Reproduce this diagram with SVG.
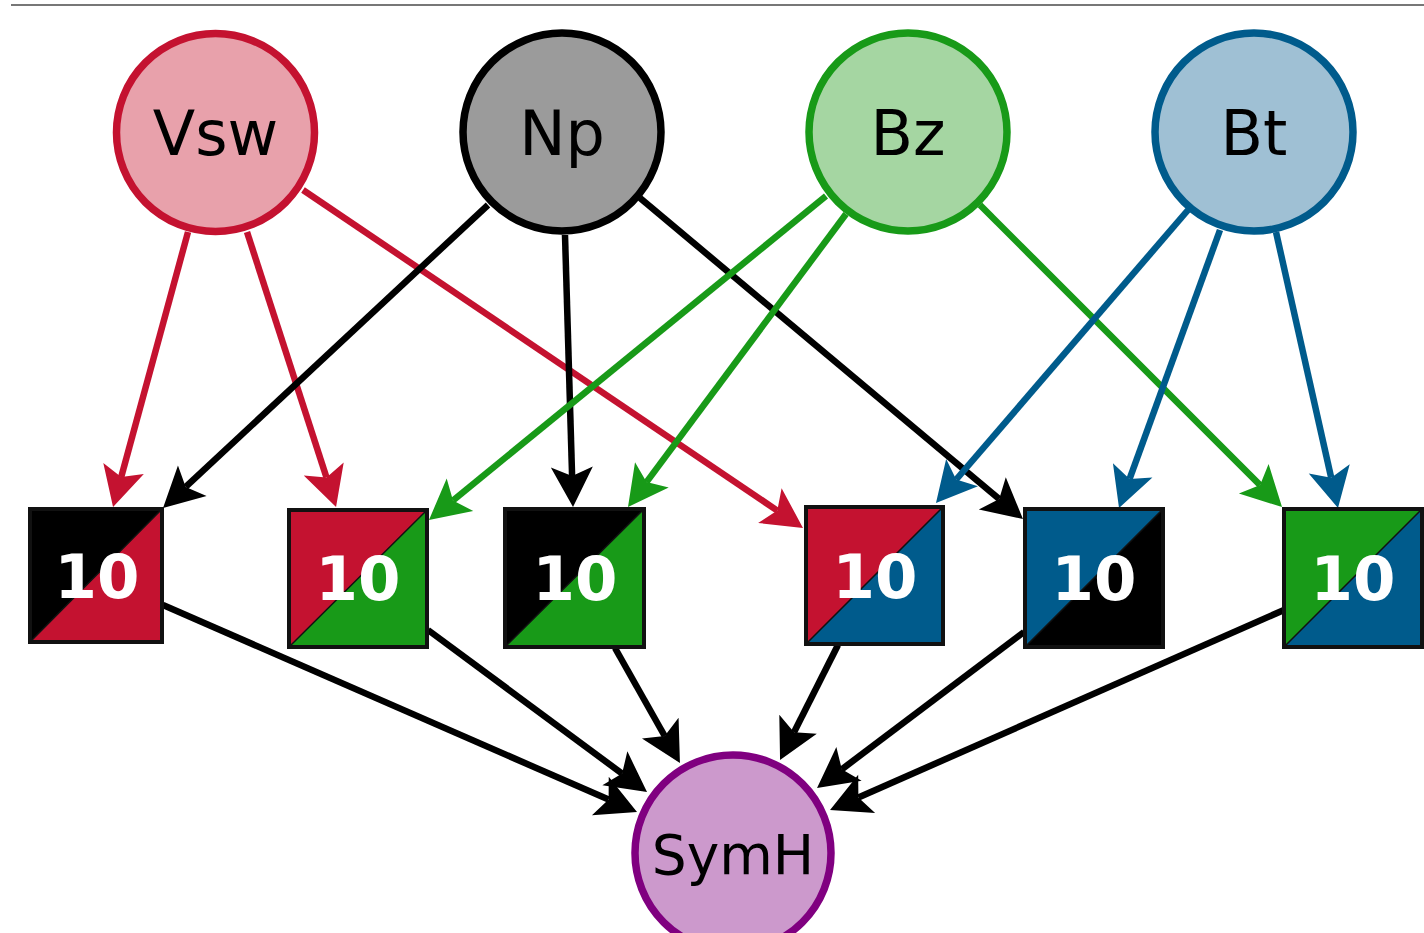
<svg xmlns="http://www.w3.org/2000/svg" width="1424" height="933" viewBox="0 0 1424 933">
<style>
.lbl{font-family:"DejaVu Sans",sans-serif;font-size:62px;fill:#000;text-anchor:middle}
.num{font-family:"DejaVu Sans",sans-serif;font-weight:bold;font-size:61px;fill:#fff;text-anchor:middle}
.sq{fill:none;stroke:#111;stroke-width:4}
.dg{stroke:#111;stroke-width:1.5}
.e{fill:none;stroke-width:6.5}
.c{stroke-width:7.5}
</style>
<defs>
<marker id="aR" markerUnits="userSpaceOnUse" markerWidth="50" markerHeight="50" viewBox="-12 -25 50 50" refX="0" refY="0" orient="auto"><path d="M31,0 L-9,-21 L0,0 L-9,21 Z" fill="#C41230"/></marker>
<marker id="aK" markerUnits="userSpaceOnUse" markerWidth="50" markerHeight="50" viewBox="-12 -25 50 50" refX="0" refY="0" orient="auto"><path d="M31,0 L-9,-21 L0,0 L-9,21 Z" fill="#000"/></marker>
<marker id="aG" markerUnits="userSpaceOnUse" markerWidth="50" markerHeight="50" viewBox="-12 -25 50 50" refX="0" refY="0" orient="auto"><path d="M31,0 L-9,-21 L0,0 L-9,21 Z" fill="#189A18"/></marker>
<marker id="aB" markerUnits="userSpaceOnUse" markerWidth="50" markerHeight="50" viewBox="-12 -25 50 50" refX="0" refY="0" orient="auto"><path d="M31,0 L-9,-21 L0,0 L-9,21 Z" fill="#005B8C"/></marker>
</defs>
<rect width="1424" height="933" fill="#fff"/>
<line x1="11" y1="5" x2="1424" y2="5" stroke="#777" stroke-width="2"/>
<g id="connectors">
<line class="e" stroke="#C41230" marker-end="url(#aR)" x1="188" y1="232" x2="121.2" y2="477.1"/>
<line class="e" stroke="#C41230" marker-end="url(#aR)" x1="247" y1="232" x2="326.5" y2="477.5"/>
<line class="e" stroke="#C41230" marker-end="url(#aR)" x1="303" y1="190" x2="777.3" y2="510.6"/>
<line class="e" stroke="#000" marker-end="url(#aK)" x1="488" y1="205" x2="185.7" y2="486.9"/>
<line class="e" stroke="#000" marker-end="url(#aK)" x1="565" y1="235" x2="572.1" y2="476"/>
<line class="e" stroke="#000" marker-end="url(#aK)" x1="640" y1="198" x2="999.2" y2="499.1"/>
<line class="e" stroke="#189A18" marker-end="url(#aG)" x1="826" y1="196" x2="453" y2="500.4"/>
<line class="e" stroke="#189A18" marker-end="url(#aG)" x1="846" y1="214" x2="646.5" y2="482.1"/>
<line class="e" stroke="#189A18" marker-end="url(#aG)" x1="980" y1="205" x2="1260.1" y2="485.1"/>
<line class="e" stroke="#005B8C" marker-end="url(#aB)" x1="1188" y1="210" x2="956.2" y2="479.5"/>
<line class="e" stroke="#005B8C" marker-end="url(#aB)" x1="1220" y1="230" x2="1129.6" y2="478.9"/>
<line class="e" stroke="#005B8C" marker-end="url(#aB)" x1="1276" y1="232" x2="1331.2" y2="477.7"/>
<line class="e" stroke="#000" marker-end="url(#aK)" x1="163" y1="605" x2="608.6" y2="799.6"/>
<line class="e" stroke="#000" marker-end="url(#aK)" x1="428" y1="630" x2="622.1" y2="773.6"/>
<line class="e" stroke="#000" marker-end="url(#aK)" x1="615" y1="648" x2="664.7" y2="736"/>
<line class="e" stroke="#000" marker-end="url(#aK)" x1="838" y1="645" x2="794" y2="732.3"/>
<line class="e" stroke="#000" marker-end="url(#aK)" x1="1024" y1="632" x2="841.8" y2="769.3"/>
<line class="e" stroke="#000" marker-end="url(#aK)" x1="1284" y1="610" x2="858.4" y2="797.5"/>
</g>
<g id="Vsw"><circle class="c" cx="215.5" cy="132.5" r="99" fill="#E8A1AB" stroke="#C41230"/><text class="lbl" x="215.5" y="155">Vsw</text></g>
<g id="Np"><circle class="c" cx="562" cy="132" r="99" fill="#9B9B9B" stroke="#000"/><text class="lbl" x="562" y="155">Np</text></g>
<g id="Bz"><circle class="c" cx="908" cy="132" r="99" fill="#A5D6A2" stroke="#189A18"/><text class="lbl" x="908" y="155">Bz</text></g>
<g id="Bt"><circle class="c" cx="1254" cy="132" r="99" fill="#9FC0D4" stroke="#005B8C"/><text class="lbl" x="1254" y="155">Bt</text></g>
<g id="SymH"><circle class="c" cx="733" cy="853" r="98" fill="#CC99CC" stroke="#800080"/><text class="lbl" x="733" y="874" style="font-size:55px">SymH</text></g>
<g id="sq1"><rect x="30" y="509" width="132" height="133" fill="#000"/><polygon class="dg" points="30,642 162,509 162,642" fill="#C41230"/><rect class="sq" x="30" y="509" width="132" height="133"/><text class="num" x="97" y="598">10</text></g>
<g id="sq2"><rect x="289" y="510" width="138" height="137" fill="#C41230"/><polygon class="dg" points="289,647 427,510 427,647" fill="#189A18"/><rect class="sq" x="289" y="510" width="138" height="137"/><text class="num" x="358" y="600">10</text></g>
<g id="sq3"><rect x="505" y="509" width="139" height="138" fill="#000"/><polygon class="dg" points="505,647 644,509 644,647" fill="#189A18"/><rect class="sq" x="505" y="509" width="139" height="138"/><text class="num" x="575" y="600">10</text></g>
<g id="sq4"><rect x="806" y="507" width="137" height="137" fill="#C41230"/><polygon class="dg" points="806,644 943,507 943,644" fill="#005B8C"/><rect class="sq" x="806" y="507" width="137" height="137"/><text class="num" x="875" y="598">10</text></g>
<g id="sq5"><rect x="1025" y="509" width="138" height="138" fill="#005B8C"/><polygon class="dg" points="1025,647 1163,509 1163,647" fill="#000"/><rect class="sq" x="1025" y="509" width="138" height="138"/><text class="num" x="1094" y="600">10</text></g>
<g id="sq6"><rect x="1284" y="509" width="138" height="138" fill="#189A18"/><polygon class="dg" points="1284,647 1422,509 1422,647" fill="#005B8C"/><rect class="sq" x="1284" y="509" width="138" height="138"/><text class="num" x="1353" y="600">10</text></g>
</svg>
